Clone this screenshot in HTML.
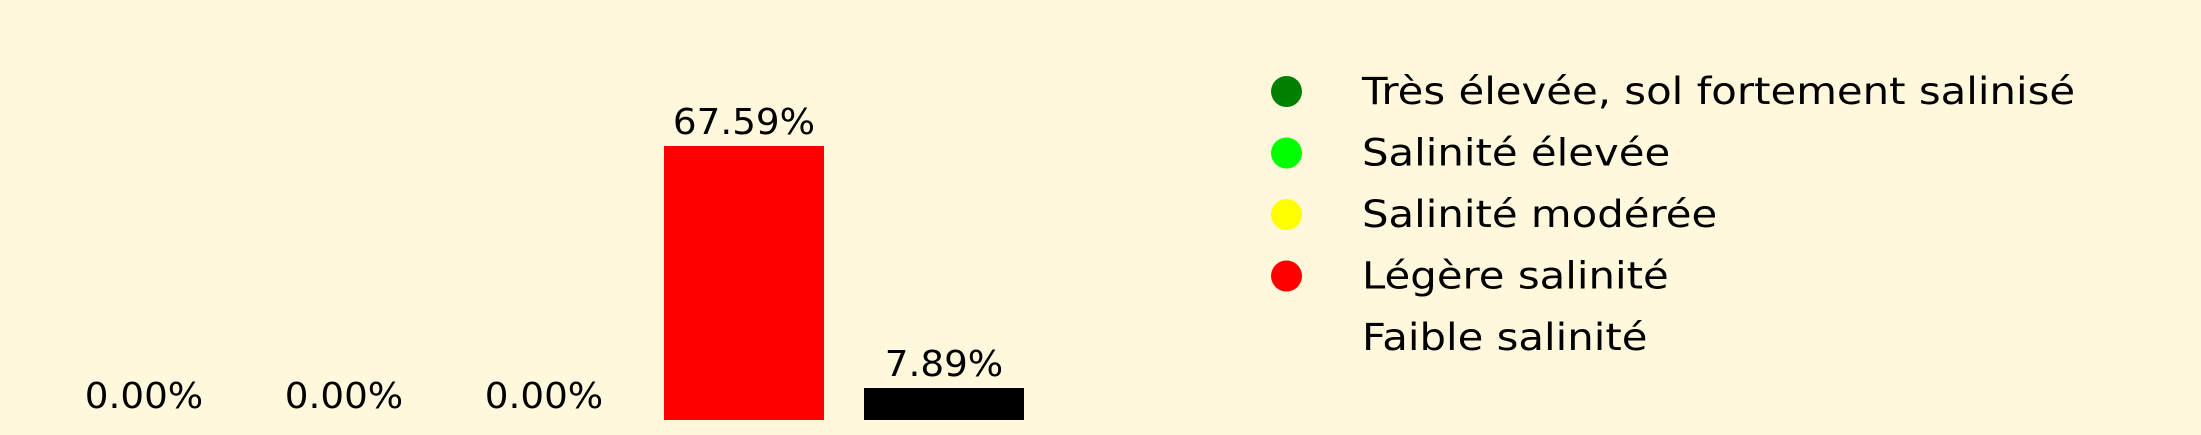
<!DOCTYPE html>
<html><head><meta charset="utf-8"><style>
html,body{margin:0;padding:0;background:#FFF8DC;}
svg{display:block;font-family:"DejaVu Sans","Liberation Sans",sans-serif;}
</style></head><body>
<svg id="chart" width="2201" height="435" viewBox="0 0 2201 435" xmlns="http://www.w3.org/2000/svg">
<rect width="2201" height="435" fill="#FFF8DC"/>
<g id="bars"></g>
<g id="legend"></g>
</svg>
<script>
const categories = ["Très élevée, sol fortement salinisé","Salinité élevée","Salinité modérée","Légère salinité","Faible salinité"];
const values = [0, 0, 0, 67.59, 7.89];
const colors = ["#008000","#00FF00","#FFFF00","#FF0000","#000000"];
const legendColors = ["#008000","#00FF00","#FFFF00","#FF0000","#FFF8DC"];

const NS = "http://www.w3.org/2000/svg";
const baseY = 420, pxPerUnit = 4.054;
function xCenter(i){ return 144 + i*200; }
function yScale(v){ return baseY - v*pxPerUnit; }

const bars = document.getElementById('bars');
values.forEach((v,i)=>{
  const r = document.createElementNS(NS,'rect');
  r.setAttribute('x', xCenter(i)-80);
  r.setAttribute('width', 160);
  r.setAttribute('y', yScale(v));
  r.setAttribute('height', baseY - yScale(v));
  r.setAttribute('fill', colors[i]);
  
  
  bars.appendChild(r);
  const t = document.createElementNS(NS,'text');
  t.setAttribute('x', xCenter(i));
  t.setAttribute('y', yScale(v) - 12);
  t.setAttribute('text-anchor', 'middle');
  t.setAttribute('font-size', '36');
  t.setAttribute('fill', '#000');
  t.textContent = v.toFixed(2) + '%';
  
  
  bars.appendChild(t);
  const w = t.getComputedTextLength();
  if (w > 0) { t.setAttribute('textLength', (w*1.035).toFixed(1)); t.setAttribute('lengthAdjust','spacingAndGlyphs'); }
});

const legend = document.getElementById('legend');
categories.forEach((c,i)=>{
  const cy = 91.5 + i*61.5;
  const g = document.createElementNS(NS,'g');
  
  
  const circ = document.createElementNS(NS,'circle');
  circ.setAttribute('cx', 1286.5);
  circ.setAttribute('cy', cy);
  circ.setAttribute('r', 15.5);
  circ.setAttribute('fill', legendColors[i]);
  
  
  g.appendChild(circ);
  const t = document.createElementNS(NS,'text');
  t.setAttribute('x', 1362);
  t.setAttribute('y', cy + 12.5);
  t.setAttribute('font-size', '37');
  t.setAttribute('fill', '#000');
  t.textContent = c;
  
  
  g.appendChild(t);
  legend.appendChild(g);
  const w = t.getComputedTextLength();
  if (w > 0) { t.setAttribute('textLength', (w*1.13).toFixed(1)); t.setAttribute('lengthAdjust','spacingAndGlyphs'); }
});
</script>
</body></html>
